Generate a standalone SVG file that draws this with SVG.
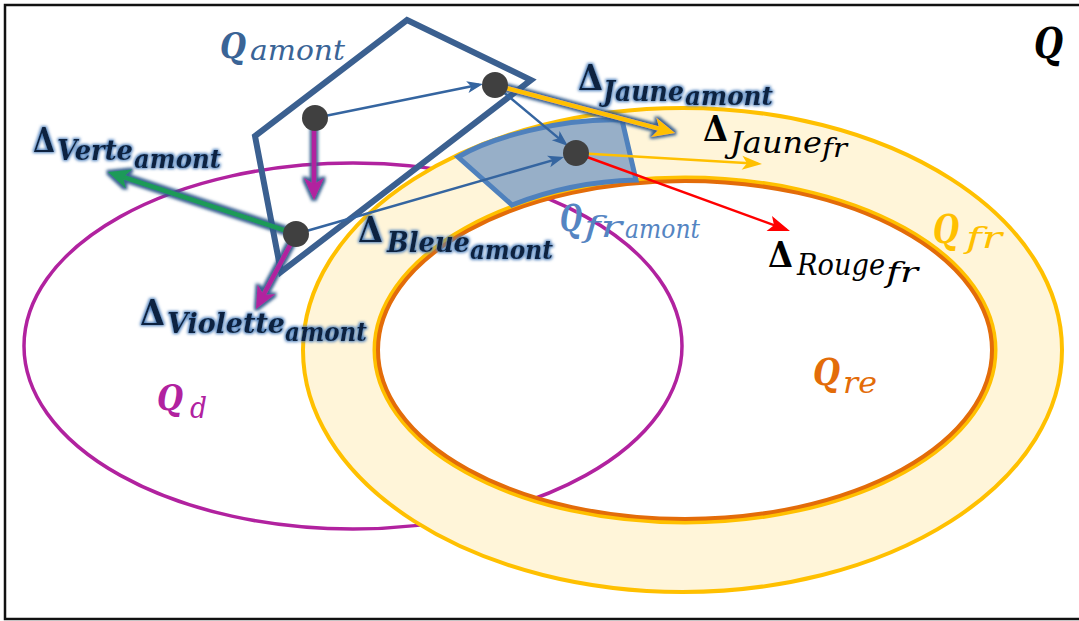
<svg xmlns="http://www.w3.org/2000/svg" width="1079" height="621" viewBox="0 0 1079 621">
<style>
text{font-family:"DejaVu Serif","Liberation Serif",serif;font-style:italic}
.up{font-style:normal;font-weight:bold}
.b{font-weight:bold}
.dk{fill:#10243F}
.thin{fill:none;stroke-width:2.5}
.thick{fill:none;stroke-width:4.5}
</style>
<defs>
<filter id="halo" filterUnits="userSpaceOnUse" x="0" y="0" width="1079" height="621">
<feMorphology in="SourceAlpha" operator="dilate" radius="2" result="d"/>
<feGaussianBlur in="d" stdDeviation="1.4" result="bl"/>
<feFlood flood-color="#2F5A8C" flood-opacity="0.95"/>
<feComposite in2="bl" operator="in" result="h"/>
<feMerge><feMergeNode in="h"/><feMergeNode in="SourceGraphic"/></feMerge>
</filter>
<filter id="glow" filterUnits="userSpaceOnUse" x="0" y="0" width="1079" height="621">
<feMorphology in="SourceAlpha" operator="dilate" radius="1" result="d"/>
<feGaussianBlur in="d" stdDeviation="1.5" result="bl"/>
<feFlood flood-color="#4F81BD"/>
<feComposite in2="bl" operator="in" result="h"/>
<feMerge><feMergeNode in="h"/><feMergeNode in="SourceGraphic"/></feMerge>
</filter>
<marker id="ab" markerUnits="userSpaceOnUse" markerWidth="16" markerHeight="12" refX="12" refY="6" orient="auto" overflow="visible"><path d="M0,0 L16,6 L0,12 L4,6 z" fill="#3565A0"/></marker>
<marker id="ay" markerUnits="userSpaceOnUse" markerWidth="20" markerHeight="14" refX="16" refY="7" orient="auto" overflow="visible"><path d="M0,0 L20,7 L0,14 L5,7 z" fill="#FFC000"/></marker>
<marker id="ar" markerUnits="userSpaceOnUse" markerWidth="22" markerHeight="16" refX="18" refY="8" orient="auto" overflow="visible"><path d="M0,0 L22,8 L0,16 L5,8 z" fill="#FF0000"/></marker>
<marker id="hm" markerUnits="userSpaceOnUse" markerWidth="22" markerHeight="20" refX="14" refY="10" orient="auto" overflow="visible"><path d="M0,0 L22,10 L0,20 L6,10 z" fill="#B1229F"/></marker>
<marker id="hg" markerUnits="userSpaceOnUse" markerWidth="22" markerHeight="20" refX="14" refY="10" orient="auto" overflow="visible"><path d="M0,0 L22,10 L0,20 L6,10 z" fill="#1E9A58"/></marker>
<marker id="hy" markerUnits="userSpaceOnUse" markerWidth="22" markerHeight="20" refX="14" refY="10" orient="auto" overflow="visible"><path d="M0,0 L22,10 L0,20 L6,10 z" fill="#FFC000"/></marker>
</defs>
<rect x="0" y="0" width="1079" height="621" fill="#fff"/>
<rect x="5" y="5" width="1080" height="614" fill="none" stroke="#111" stroke-width="2.5"/>

<g id="Qd">
<ellipse cx="353" cy="346" rx="329" ry="183" fill="none" stroke="#B1229F" stroke-width="3.5"/>
</g>
<g id="Qfr">
<path d="M303,350 A379.5,242 0 1,0 1062,350 A379.5,242 0 1,0 303,350 Z M374,350 A311,173 0 1,0 996,350 A311,173 0 1,0 374,350 Z" fill="#FFF5D9" fill-rule="evenodd"/>
<ellipse cx="682.5" cy="350" rx="379.5" ry="242" fill="none" stroke="#FFC000" stroke-width="4"/>
<ellipse cx="685" cy="350" rx="310" ry="172" fill="none" stroke="#FFC000" stroke-width="5"/>
</g>
<g id="Qre">
<ellipse cx="685" cy="350" rx="307" ry="169" fill="none" stroke="#E36C09" stroke-width="4"/>
</g>
<g id="Qfr_amont">
<path d="M458,157 C490,138 560,118 622,120 L636,180 C595,181 550,190 512,205 Z" fill="#97AFC8" stroke="#4F81BD" stroke-width="5" stroke-linejoin="miter"/>
</g>
<g id="Qamont">
<polygon points="407,20 531,80 281,272 255,136" fill="none" stroke="#3B6090" stroke-width="6" stroke-linejoin="miter"/>
</g>

<g id="connectors">
<path class="thin" d="M315,118 L479.1,84.8" stroke="#3565A0" marker-end="url(#ab)"/>
<path class="thin" d="M495,85 L564.9,143.4" stroke="#3565A0" marker-end="url(#ab)"/>
<path class="thin" d="M296,234 L560.2,158.1" stroke="#3565A0" marker-end="url(#ab)"/>
<g filter="url(#halo)">
<path class="thick" d="M314,118 L314,192" stroke="#B1229F" marker-end="url(#hm)"/>
</g>
<g filter="url(#halo)">
<path class="thick" d="M296,234 L115.6,174.5" stroke="#1E9A58" marker-end="url(#hg)"/>
</g>
<g filter="url(#halo)">
<path class="thick" d="M296,234 L259.8,301.9" stroke="#B1229F" marker-end="url(#hm)"/>
</g>
<g filter="url(#halo)">
<path class="thick" d="M495,85 L667.3,130.9" stroke="#FFC000" marker-end="url(#hy)"/>
</g>
<path class="thin" d="M576,153 L758,163.8" stroke="#FFC000" marker-end="url(#ay)"/>
<path class="thin" d="M576,153 L786.2,229.6" stroke="#FF0000" stroke-width="2" marker-end="url(#ar)"/>
</g>

<g id="points" fill="#404040">
<circle cx="315" cy="118" r="13"/>
<circle cx="495" cy="85" r="13"/>
<circle cx="296" cy="234" r="13"/>
<circle cx="576" cy="153" r="13"/>
</g>

<g id="labels">
<text fill="#3A6496"><tspan class="b" x="220" y="58" font-size="36" textLength="26" lengthAdjust="spacingAndGlyphs">Q</tspan><tspan x="250" y="60" font-size="28" textLength="95" lengthAdjust="spacingAndGlyphs">amont</tspan></text>
<text fill="#000"><tspan class="b" x="1034" y="58" font-size="42" textLength="29" lengthAdjust="spacingAndGlyphs">Q</tspan></text>
<g filter="url(#glow)">
<text class="dk b"><tspan class="up" x="33" y="152" font-size="34" textLength="22" lengthAdjust="spacingAndGlyphs">Δ</tspan><tspan x="57" y="160" font-size="27" textLength="76" lengthAdjust="spacingAndGlyphs">Verte</tspan><tspan x="134" y="168" font-size="26" textLength="87" lengthAdjust="spacingAndGlyphs">amont</tspan></text>
<text class="dk b"><tspan class="up" x="358" y="242" font-size="36" textLength="25" lengthAdjust="spacingAndGlyphs">Δ</tspan><tspan x="387" y="252" font-size="28" textLength="83" lengthAdjust="spacingAndGlyphs">Bleue</tspan><tspan x="470" y="259" font-size="26" textLength="83" lengthAdjust="spacingAndGlyphs">amont</tspan></text>
<text class="dk b"><tspan class="up" x="140" y="325" font-size="36" textLength="25" lengthAdjust="spacingAndGlyphs">Δ</tspan><tspan x="167" y="333" font-size="28" textLength="118" lengthAdjust="spacingAndGlyphs">Violette</tspan><tspan x="285" y="341" font-size="26" textLength="82" lengthAdjust="spacingAndGlyphs">amont</tspan></text>
<text class="dk b"><tspan class="up" x="578" y="90" font-size="36" textLength="25" lengthAdjust="spacingAndGlyphs">Δ</tspan><tspan x="603" y="101" font-size="28" textLength="81" lengthAdjust="spacingAndGlyphs">Jaune</tspan><tspan x="685" y="105" font-size="26" textLength="88" lengthAdjust="spacingAndGlyphs">amont</tspan></text>
</g>
<text fill="#000" class="b"><tspan class="up" x="703" y="141" font-size="36" textLength="25" lengthAdjust="spacingAndGlyphs">Δ</tspan><tspan font-weight="normal" x="730" y="153" font-size="30" textLength="92" lengthAdjust="spacingAndGlyphs">Jaune</tspan><tspan font-weight="normal" x="822" y="157" font-size="26" textLength="25" lengthAdjust="spacingAndGlyphs">fr</tspan></text>
<text fill="#000" class="b"><tspan class="up" x="768" y="267" font-size="36" textLength="25" lengthAdjust="spacingAndGlyphs">Δ</tspan><tspan font-weight="normal" x="797" y="275" font-size="30" textLength="88" lengthAdjust="spacingAndGlyphs">Rouge</tspan><tspan font-weight="normal" x="886" y="282" font-size="27" textLength="32" lengthAdjust="spacingAndGlyphs">fr</tspan></text>
<text fill="#FFC000"><tspan class="b" x="933" y="243" font-size="40" textLength="26" lengthAdjust="spacingAndGlyphs">Q</tspan><tspan x="966" y="248" font-size="30" textLength="36" lengthAdjust="spacingAndGlyphs">fr</tspan></text>
<text fill="#E36C09"><tspan class="b" x="813" y="385" font-size="38" textLength="27" lengthAdjust="spacingAndGlyphs">Q</tspan><tspan x="843" y="393" font-size="30" textLength="34" lengthAdjust="spacingAndGlyphs">re</tspan></text>
<text fill="#B1229F"><tspan class="b" x="157" y="410" font-size="36" textLength="26" lengthAdjust="spacingAndGlyphs">Q</tspan><tspan x="190" y="418" font-size="30" textLength="17" lengthAdjust="spacingAndGlyphs">d</tspan></text>
<text fill="#5585C2"><tspan class="b" x="560" y="231" font-size="38" textLength="22" lengthAdjust="spacingAndGlyphs">Q</tspan><tspan x="584" y="237" font-size="30" textLength="38" lengthAdjust="spacingAndGlyphs">fr</tspan><tspan x="625" y="238" font-size="26" textLength="75" lengthAdjust="spacingAndGlyphs">amont</tspan></text>
</g>
</svg>
